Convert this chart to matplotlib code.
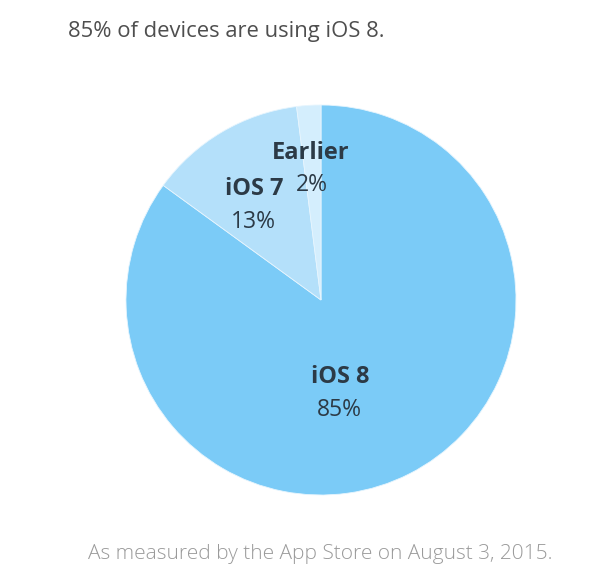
import matplotlib
matplotlib.use("Agg")
import matplotlib.pyplot as plt

labels = ["iOS 8", "iOS 7", "Earlier"]
values = [85, 13, 2]
pct_labels = ["85%", "13%", "2%"]
colors = ["#7BCBF7", "#B4E0FA", "#D4EEFD"]

title = "85% of devices are using iOS 8."
footer = "As measured by the App Store on August 3, 2015."

W, H = 600, 588
fig = plt.figure(figsize=(W / 100, H / 100), dpi=100)
fig.patch.set_facecolor("white")

cx, cy, r = 321, 300, 195
ax = fig.add_axes([(cx - r) / W, (H - cy - r) / H, 2 * r / W, 2 * r / H])
ax.pie(values, colors=colors, startangle=90, counterclock=False, radius=1,
       wedgeprops=dict(linewidth=0.6, edgecolor="#E6F5FE"))
ax.set_xlim(-1, 1)
ax.set_ylim(-1, 1)
ax.set_aspect("equal")
ax.axis("off")

# label positions (pixel centers of the reference) converted to pie units
name_pos = [(340, 377), (254, 189), (311, 153)]
pct_pos = [(339, 410), (253, 222), (312, 185)]
txtc = "#2C3A46"
for lab, pct, (nx, ny), (px, py) in zip(labels, pct_labels, name_pos, pct_pos):
    ax.text((nx - cx) / r, (cy - ny) / r, lab, ha="center", va="center",
            fontsize=17, fontweight="bold", color=txtc, family="Open Sans")
    ax.text((px - cx) / r, (cy - py) / r, pct, ha="center", va="center",
            fontsize=16.5, color=txtc, family="Open Sans")

fig.text(68 / W, 1 - 32 / H, title, ha="left", va="center", fontsize=15.8,
         color="#4E4E4E", family="Open Sans")
fig.text(320 / W, 1 - 554 / H, footer, ha="center", va="center", fontsize=15,
         color="#9A9A9A", family="Open Sans", fontweight="light")

fig.savefig("out.png", dpi=100, facecolor="white")
